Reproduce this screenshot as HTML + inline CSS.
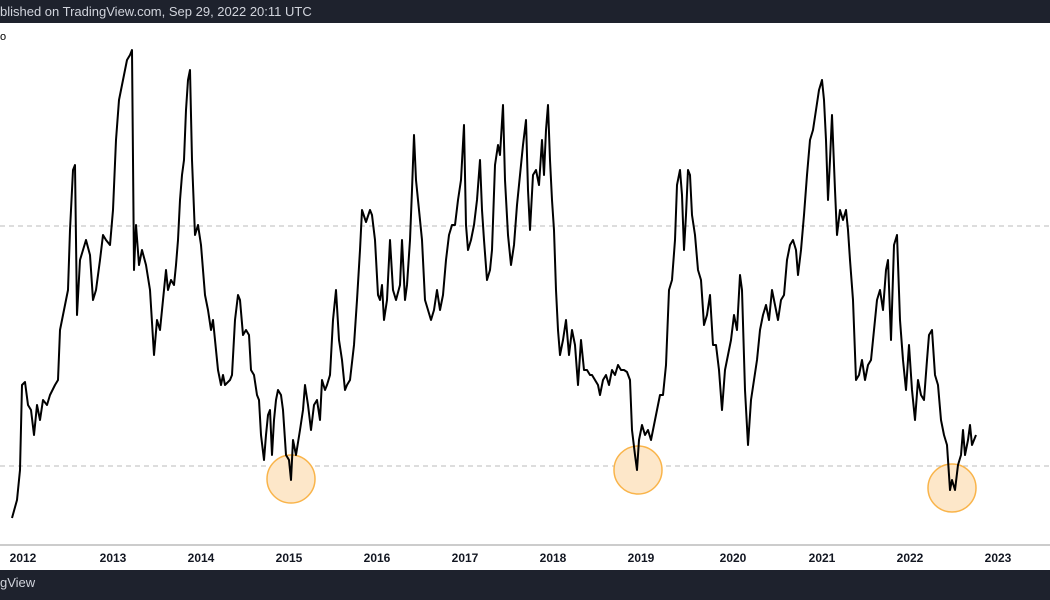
<!DOCTYPE html>
<html><head><style>
body{margin:0;width:1050px;height:600px;overflow:hidden;background:#fff;font-family:"Liberation Sans",sans-serif}
.top{position:absolute;left:0;top:0;width:1050px;height:23px;background:#1e222d;color:#d1d4dc;font-size:13px;line-height:23px}
.bot{position:absolute;left:0;top:570px;width:1050px;height:30px;background:#1e222d;color:#d1d4dc;font-size:13px;line-height:26px}
</style></head><body>
<div class="top">blished on TradingView.com, Sep 29, 2022 20:11 UTC</div>
<svg style="position:absolute;left:0;top:23px" width="1050" height="547" viewBox="0 23 1050 547">
<line x1="0" y1="226" x2="1050" y2="226" stroke="#bbb" stroke-dasharray="5,4"/>
<line x1="0" y1="466" x2="1050" y2="466" stroke="#bbb" stroke-dasharray="5,4"/>
<line x1="0" y1="545" x2="1050" y2="545" stroke="#999"/>
<g fill="#fde7c9" stroke="#f9b44a" stroke-width="1.5">
<circle cx="291" cy="479" r="24"/><circle cx="638" cy="470" r="24"/><circle cx="952" cy="488" r="24"/></g>
<text x="0" y="40" font-size="11" fill="#000">o</text>
<polyline fill="none" stroke="#000" stroke-width="2" stroke-linejoin="round" points="12,518 17,500 20,470 22,385 25,382 28,405 31,410 34,435 37,405 40,420 43,400 47,405 50,395 55,385 58,380 60,330 64,310 68,290 70,230 73,170 75,165 77,315 80,260 83,250 86,240 90,255 93,300 96,290 100,260 103,235 106,240 110,245 113,210 116,140 119,100 122,85 125,70 127,60 130,55 132,50 134,270 136,225 139,265 142,250 146,265 150,290 154,355 157,320 160,330 163,300 166,270 168,290 171,280 174,285 176,265 178,240 180,200 182,175 184,160 186,110 188,80 190,70 192,160 195,235 198,225 201,245 205,295 208,310 211,330 213,320 215,340 218,370 221,385 223,375 225,385 230,380 232,375 235,320 238,295 240,300 243,335 246,330 249,335 251,370 254,375 257,395 259,400 261,435 264,460 266,435 268,415 270,410 272,455 274,420 276,400 278,390 281,395 283,410 286,455 289,460 291,480 293,440 296,455 300,430 303,410 305,385 308,405 311,430 314,405 317,400 320,420 322,380 325,390 327,385 330,375 333,320 336,290 339,340 342,360 345,390 347,385 350,380 354,345 357,300 360,250 362,210 366,222 370,210 372,215 375,240 378,295 380,300 382,285 384,320 387,300 390,240 393,290 396,300 400,285 402,240 405,300 407,285 410,240 412,190 414,135 416,180 419,210 422,240 425,300 428,310 431,320 434,310 437,290 440,310 443,295 446,260 449,235 452,225 455,225 458,200 461,180 464,125 466,225 468,250 471,240 474,225 477,200 480,160 482,210 484,240 487,280 490,270 492,250 495,165 498,145 500,155 503,105 505,180 508,235 511,265 514,245 517,205 520,175 523,145 526,120 528,190 530,230 533,175 536,170 539,185 542,140 544,175 546,130 548,105 550,160 552,200 554,230 556,290 558,330 560,355 563,340 566,320 569,355 572,330 575,345 578,385 581,340 584,370 587,370 590,375 592,375 595,380 598,385 600,395 603,380 606,375 609,385 612,370 615,375 618,365 621,370 624,370 627,372 630,380 632,430 635,455 637,470 639,440 642,425 645,435 648,430 651,440 654,425 657,410 660,395 663,395 666,365 669,290 672,280 675,240 677,185 680,170 682,195 684,250 686,215 688,170 690,175 692,215 695,235 698,270 701,280 704,325 707,315 710,295 713,345 716,345 719,370 722,410 725,370 728,355 731,340 734,315 737,330 740,275 742,290 745,390 748,445 751,400 754,380 757,360 760,330 763,315 766,305 769,320 772,290 775,305 778,320 781,300 784,295 787,260 790,245 793,240 796,250 798,275 801,250 804,215 807,175 810,140 813,130 816,110 819,90 822,80 824,100 826,140 828,200 830,160 832,115 835,190 837,235 840,210 843,220 846,210 848,230 850,260 853,300 856,380 859,375 862,360 865,380 868,365 871,360 874,330 877,300 880,290 883,310 886,270 888,260 891,340 894,245 897,235 900,320 903,360 906,390 909,345 912,390 915,420 918,380 921,395 924,400 927,360 929,335 932,330 935,375 938,385 941,420 944,435 947,445 950,490 952,480 955,490 958,465 961,455 963,430 965,455 968,440 970,425 972,445 974,440 976,435"/>
<g font-size="12" font-weight="bold" fill="#131722" text-anchor="middle">
<text x="23" y="562">2012</text><text x="113" y="562">2013</text><text x="201" y="562">2014</text><text x="289" y="562">2015</text><text x="377" y="562">2016</text><text x="465" y="562">2017</text><text x="553" y="562">2018</text><text x="641" y="562">2019</text><text x="733" y="562">2020</text><text x="822" y="562">2021</text><text x="910" y="562">2022</text><text x="998" y="562">2023</text></g>
</svg>
<div class="bot">gView</div>
</body></html>
